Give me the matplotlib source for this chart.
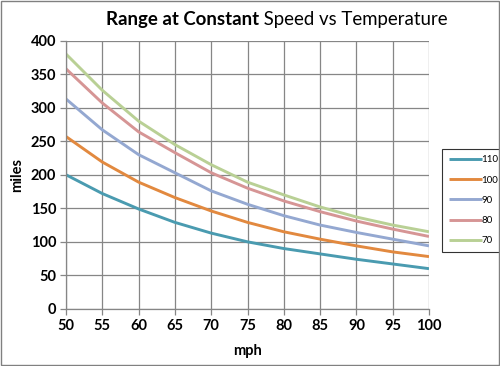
import matplotlib
matplotlib.use("Agg")
import matplotlib.pyplot as plt
from matplotlib.patches import Rectangle

plt.rcParams['font.family'] = ['Lato', 'DejaVu Sans']

# speed (mph) and range (miles) per outside temperature
mph = [50, 55, 60, 65, 70, 75, 80, 85, 90, 95, 100]
temps = ["110", "100", "90", "80", "70"]
range_110 = [200, 172, 149, 129, 113, 100, 90, 82, 74, 67, 60]
range_100 = [257, 219, 189, 166, 146, 129, 115, 104, 94, 85, 78]
range_90 = [313, 267, 230, 203, 176, 156, 139, 125, 114, 104, 94]
range_80 = [358, 307, 264, 233, 203, 180, 161, 145, 131, 119, 108]
range_70 = [380, 326, 280, 245, 215, 189, 170, 152, 137, 125, 115]
colors = ["#4A9BB0", "#E2893F", "#94A8D1", "#D69595", "#B9D095"]

fig = plt.figure(figsize=(5.0, 3.66), dpi=100)
ax = fig.add_axes([0.132, 0.156, 0.726, 0.733])

series = [range_110, range_100, range_90, range_80, range_70]
for vals, lab, c in zip(series, temps, colors):
    ax.plot(mph, vals, color=c, lw=2.1, label=lab, solid_capstyle='butt')

ax.set_xlim(50, 100)
ax.set_ylim(0, 400)
ax.set_xticks(range(50, 101, 5))
ax.set_yticks(range(0, 401, 50))
ax.grid(True, color="#868686", lw=0.9)
ax.set_axisbelow(True)
for s in ["top", "right"]:
    ax.spines[s].set_visible(False)
for s in ["left", "bottom"]:
    ax.spines[s].set_color("#868686")
    ax.spines[s].set_linewidth(0.9)
ax.tick_params(direction='out', length=4, color="#868686", width=0.9,
               labelsize=10.5, pad=3)
for lbl in ax.get_xticklabels() + ax.get_yticklabels():
    lbl.set_fontweight('bold')

ax.set_xlabel("mph", fontsize=10.5, fontweight='bold', labelpad=8)
ax.set_ylabel("miles", fontsize=10.5, fontweight='bold', labelpad=5)

# title: first part bold, rest regular
fig.text(0.518, 0.948, "Range at Constant", ha='right', va='center',
         fontsize=13.4, fontweight='bold')
fig.text(0.518, 0.948, " Speed vs Temperature", ha='left', va='center',
         fontsize=13.4)

leg = ax.legend(loc='center left', bbox_to_anchor=(1.035, 0.405),
                fontsize=7, frameon=True, fancybox=False,
                handlelength=3.4, handletextpad=0.0, labelspacing=1.15,
                borderpad=0.7, borderaxespad=0)
leg.get_frame().set_edgecolor("black")
leg.get_frame().set_linewidth(0.8)

# outer chart border
fig.patches.append(Rectangle((0.002, 0.003), 0.995, 0.993, transform=fig.transFigure,
                             fill=False, edgecolor="#808080", lw=1.0))

fig.savefig("out.png", dpi=100)
